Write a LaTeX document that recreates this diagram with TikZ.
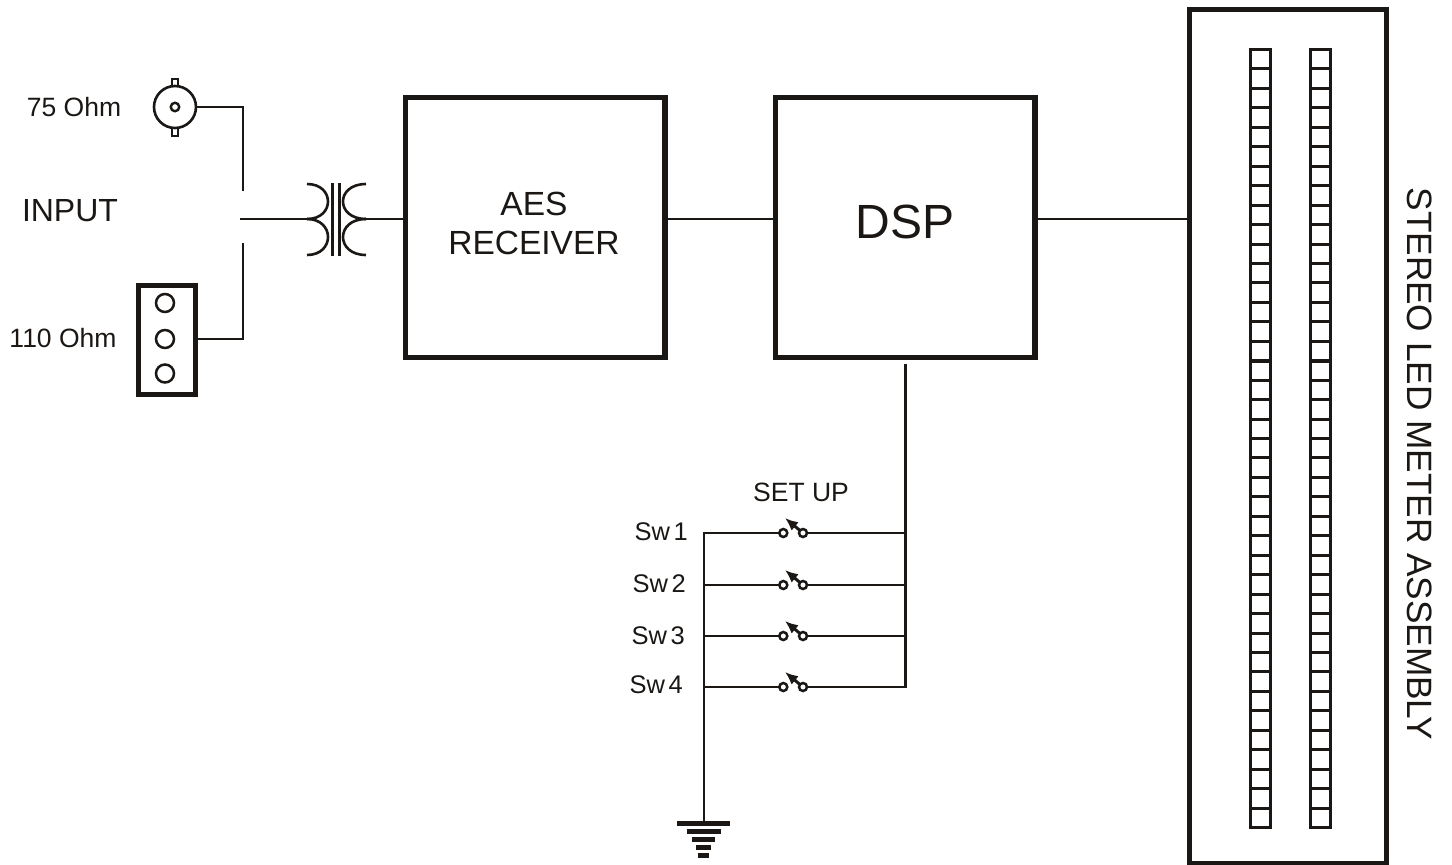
\documentclass[tikz,border=0pt]{standalone}
\usepackage{fontspec}
\setmainfont{Liberation Sans}
\usetikzlibrary{arrows.meta}
\definecolor{ink}{HTML}{1A1714}
\tikzset{
  wire/.style={draw=ink,line width=2.95pt},
  heavybox/.style={draw=ink,line width=5.5pt,rectangle,outer sep=0pt,inner sep=0pt,fill=none},
  thin part/.style={draw=ink,line width=2.6pt},
  lbl/.style={text=ink,inner sep=0pt,font=\fontsize{26.5}{30}\selectfont},
  lblm/.style={text=ink,inner sep=0pt,font=\fontsize{32}{36}\selectfont},
  terminal/.style={circle,draw=ink,line width=2.5pt,fill=white,minimum size=8pt,inner sep=0pt,outer sep=0pt},
  pad/.style={circle,draw=ink,line width=2.5pt,minimum size=18pt,inner sep=0pt,outer sep=0pt},
  gbar/.style={draw=ink,line width=5pt},
  ledcell/.style={draw=ink,line width=3pt},
}
\begin{document}
\begin{tikzpicture}[x=1pt,y=-1pt]
\useasboundingbox (0,0) rectangle (1452,865);
% main boxes
\node[heavybox,minimum width=259.5pt,minimum height=260pt] (aes) at (535.2,227.5) {};
\node[heavybox,minimum width=259.5pt,minimum height=260pt] (dsp) at (905.2,227.5) {};
\node[heavybox,minimum width=197pt,minimum height=854pt] (meter) at (1287.8,436.5) {};
\node[text=ink,inner sep=0pt,font=\fontsize{33.5}{38}\selectfont] (aestxt1) at (534,204) {AES};
\node[text=ink,inner sep=0pt,font=\fontsize{33.5}{38}\selectfont] (aestxt2) at (534,243) {RECEIVER};
\node[text=ink,inner sep=0pt,font=\fontsize{48}{52}\selectfont] (dsptxt) at (905,222) {DSP};
% LED columns
\foreach \cx in {1250.5,1310.5}{
  \foreach \i in {0,...,39}{
    \draw[ledcell] ({\cx},{49.5+\i*19.45}) rectangle ({\cx+19.5},{49.5+(\i+1)*19.45});
  }
  \draw[draw=ink,line width=4.5pt] ({\cx-1},361) -- ({\cx+20.5},361);
}
\node[text=ink,inner sep=0pt,rotate=-90,font=\fontsize{35.2}{40}\selectfont] (metertxt) at (1419.5,464) {STEREO LED METER ASSEMBLY};
% input connectors
\node[circle,draw=ink,line width=2.6pt,minimum size=42pt,inner sep=0pt,outer sep=0pt] (bnc) at (175,107) {};
\node[circle,draw=ink,line width=2.4pt,minimum size=8.5pt,inner sep=0pt] (bncpin) at (175,107) {};
\draw[thin part,line width=2pt] (172,86) -- (172,78.5) -- (178,78.5) -- (178,86);
\draw[thin part,line width=2pt] (172,128) -- (172,135.5) -- (178,135.5) -- (178,128);
\node[heavybox,minimum width=57pt,minimum height=109pt] (xlr) at (167,340) {};
\node[pad] (p1) at (165,303) {};
\node[pad] (p2) at (165,339) {};
\node[pad] (p3) at (165,373.5) {};
\node[lbl] (l75) at (74,107) {75 Ohm};
\node[lblm] (linput) at (70,211) {INPUT};
\node[lbl] (l110) at (63,338) {110 Ohm};
% input wiring
\coordinate (j1) at (243,107);
\coordinate (e1) at (243,191);
\coordinate (j2) at (243,339);
\coordinate (e2) at (243,243);
\coordinate (st) at (240,219);
\coordinate (tl) at (307,219);
\coordinate (tr) at (366,219);
\draw[wire] (bnc.east) -- (j1) -- (e1);
\draw[wire] (xlr.east |- j2) -- (j2) -- (e2);
\draw[wire] (st) -- (tl);
\draw[wire] (tr) -- (aes.west |- tr);
% transformer
\draw[thin part] (307,184) .. controls (335,184) and (335,219) .. (tl);
\draw[thin part] (tl) .. controls (335,219) and (335,255) .. (307,255);
\draw[thin part] (366,184) .. controls (335.3,184) and (335.3,219) .. (tr);
\draw[thin part] (tr) .. controls (335.3,219) and (335.3,255) .. (366,255);
\draw[thin part] (332.5,183) -- (332.5,256);
\draw[thin part] (339.5,183) -- (339.5,256);
% block wiring
\draw[wire] (aes.east |- tr) -- (dsp.west |- tr);
\draw[wire] (dsp.east |- tr) -- (meter.west |- tr);
% set-up switches
\node[lbl] (setup) at (801,492) {SET UP};
\coordinate (dtop) at (905.5,365);
\coordinate (gtop) at (704,533);
\coordinate (gnd) at (704,823);
\coordinate (dbot) at (905.5,687);
\foreach \n/\y/\lx/\ly in {1/533/688/532,2/585/686/584,3/636/685/636,4/687/683/685}{
  \coordinate (L\n) at (704,\y);
  \coordinate (R\n) at (905.5,\y);
  \node[terminal] (a\n) at (783.3,\y) {};
  \node[terminal] (b\n) at (803,\y) {};
  \draw[wire] (L\n) -- (a\n);
  \draw[wire] (b\n) -- (R\n);
  \draw[draw=ink,line width=3pt,-{Latex[length=13pt,width=11pt]}] (b\n) -- (785,\y-15);
  \node[text=ink,inner sep=0pt,font=\fontsize{25.5}{30}\selectfont,anchor=east] (sw\n) at (\lx,\ly) {Sw\hspace{3.5pt}\n};
}
\draw[wire,line cap=rect] (dtop) -- (dbot) -- (b4);
\draw[wire,line cap=rect] (gtop) -- (gnd);
% ground
\draw[gbar] (677,823) -- (730,823);
\draw[gbar] (687,831) -- (721,831);
\draw[gbar] (692,839) -- (715,839);
\draw[gbar] (696,847) -- (711,847);
\draw[gbar] (698,855) -- (709,855);
\end{tikzpicture}
\end{document}
